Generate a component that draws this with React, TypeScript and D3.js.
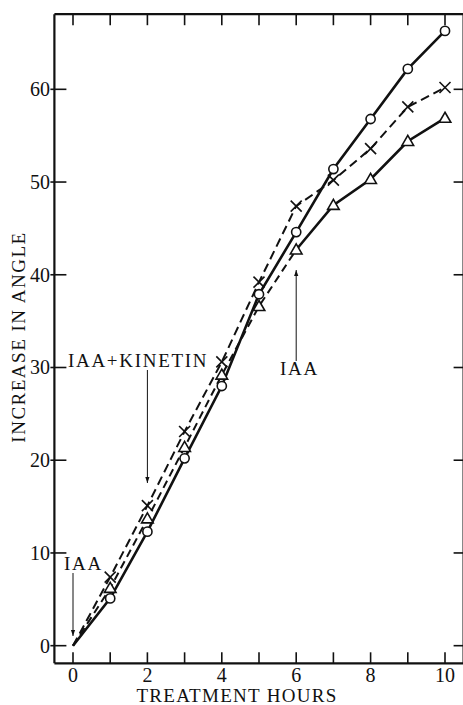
import React from "react";
import * as d3 from "d3";

const hours = [0, 1, 2, 3, 4, 5, 6, 7, 8, 9, 10];
const circleValues = [0, 5.1, 12.3, 20.2, 28.0, 37.9, 44.6, 51.4, 56.8, 62.2, 66.3];
const crossValues = [0, 7.4, 15.1, 23.1, 30.6, 39.2, 47.4, 50.2, 53.6, 58.1, 60.2];
const triangleValues = [0, 6.2, 13.7, 21.4, 29.2, 36.6, 42.7, 47.5, 50.3, 54.4, 56.9];
const xTickLabels = [0, 2, 4, 6, 8, 10];
const yTickLabels = [0, 10, 20, 30, 40, 50, 60];
const iaaStartHour = 0;
const kinetinHour = 2;
const iaaLateHour = 6;

const W = 463;
const H = 705;
const INK = "#111";
const serif = (size: number, spacing = 0): React.CSSProperties => ({
  fontFamily: "Liberation Serif",
  fontSize: size,
  letterSpacing: spacing,
});

export default function App() {
  const x = d3.scaleLinear().domain([-0.5, 10.5]).range([54.4, 463.6]);
  const y = d3.scaleLinear().domain([-1.9, 68.1]).range([663.3, 14.2]);
  const left = x(-0.5), right = x(10.5), top = y(68.1), bottom = y(-1.9);

  const line = d3
    .line<number>()
    .x((_, i) => x(hours[i]))
    .y((v) => y(v));

  const pts = (vals: number[]) => vals.map((v, i) => [x(hours[i]), y(v)] as [number, number]);
  const lineXY = d3.line<[number, number]>();

  const triDashed = pts(triangleValues).slice(0, 7);
  const triSolid = pts(triangleValues).slice(6);

  const tri = (cx: number, cy: number) =>
    `M${cx},${cy - 5.8} L${cx + 5.8},${cy + 4.2} L${cx - 5.8},${cy + 4.2} Z`;

  return (
    <svg
      width={W}
      height={H}
      style={{ position: "absolute", left: 0, top: 0, background: "#fff" }}
    >
      <defs>
        <marker id="ah" viewBox="0 0 10 10" refX="10" refY="5" markerWidth="6" markerHeight="10" orient="auto-start-reverse" markerUnits="userSpaceOnUse">
          <path d="M0,1.5 L10,5 L0,8.5 Z" fill={INK} />
        </marker>
      </defs>
      <rect x={0} y={0} width={W} height={H} fill="#fff" />

      {/* frame */}
      <line x1={left} x2={right + 2} y1={top} y2={top} stroke={INK} strokeWidth={2.2} />
      <line x1={left} x2={right + 2} y1={bottom} y2={bottom} stroke={INK} strokeWidth={2.2} />
      <line x1={left} x2={left} y1={top} y2={bottom} stroke={INK} strokeWidth={2.2} />
      <line x1={right} x2={right} y1={top} y2={bottom} stroke={INK} strokeWidth={2.2} />

      {/* x ticks top and bottom */}
      {hours.map((h) => (
        <g key={"xt" + h}>
          <line x1={x(h)} x2={x(h)} y1={top} y2={top + 11} stroke={INK} strokeWidth={1.6} />
          <line x1={x(h)} x2={x(h)} y1={bottom} y2={bottom - 11} stroke={INK} strokeWidth={1.6} />
        </g>
      ))}
      {xTickLabels.map((h) => (
        <text key={"xl" + h} x={x(h)} y={682} textAnchor="middle" style={serif(20)} fill={INK}>
          {h}
        </text>
      ))}

      {/* y ticks left and right */}
      {yTickLabels.map((v) => (
        <g key={"yt" + v}>
          <line x1={left - 4} x2={left + 12} y1={y(v)} y2={y(v)} stroke={INK} strokeWidth={1.6} />
          <line x1={right - 10} x2={right} y1={y(v)} y2={y(v)} stroke={INK} strokeWidth={1.6} />
          <text x={50} y={y(v)} dy="0.35em" textAnchor="end" style={serif(20)} fill={INK}>
            {v}
          </text>
        </g>
      ))}

      {/* axis titles */}
      <text x={237} y={702} textAnchor="middle" style={serif(19, 1.3)} fill={INK}>
        TREATMENT HOURS
      </text>
      <text
        transform={`translate(25,337) rotate(-90)`}
        textAnchor="middle"
        style={serif(19, 1.5)}
        fill={INK}
      >
        INCREASE IN ANGLE
      </text>

      {/* series lines */}
      <path d={line(circleValues) || ""} fill="none" stroke={INK} strokeWidth={2.6} />
      <path d={line(crossValues) || ""} fill="none" stroke={INK} strokeWidth={2} strokeDasharray="9 5" />
      <path d={lineXY(triDashed) || ""} fill="none" stroke={INK} strokeWidth={2} strokeDasharray="8 5" />
      <path d={lineXY(triSolid) || ""} fill="none" stroke={INK} strokeWidth={2.6} />

      {/* markers */}
      {circleValues.map((v, i) =>
        i === 0 ? null : (
          <circle key={"c" + i} cx={x(hours[i])} cy={y(v)} r={4.6} fill="#fff" stroke={INK} strokeWidth={1.6} />
        )
      )}
      {triangleValues.map((v, i) =>
        i === 0 ? null : (
          <path key={"t" + i} d={tri(x(hours[i]), y(v))} fill="#fff" stroke={INK} strokeWidth={1.6} />
        )
      )}
      {crossValues.map((v, i) =>
        i === 0 ? null : (
          <g key={"x" + i} stroke={INK} strokeWidth={1.6}>
            <line x1={x(hours[i]) - 5.5} x2={x(hours[i]) + 5.5} y1={y(v) - 5.5} y2={y(v) + 5.5} />
            <line x1={x(hours[i]) - 5.5} x2={x(hours[i]) + 5.5} y1={y(v) + 5.5} y2={y(v) - 5.5} />
          </g>
        )
      )}

      {/* annotations */}
      <text x={64} y={570} style={serif(19, 1.7)} fill={INK}>
        IAA
      </text>
      <line x1={x(iaaStartHour)} x2={x(iaaStartHour)} y1={573} y2={636} stroke={INK} strokeWidth={1} markerEnd="url(#ah)" />

      <text x={68} y={367} style={serif(19, 1.7)} fill={INK}>
        IAA+KINETIN
      </text>
      <line x1={x(kinetinHour)} x2={x(kinetinHour)} y1={370} y2={483} stroke={INK} strokeWidth={1} markerEnd="url(#ah)" />

      <text x={280} y={375} style={serif(19, 1.7)} fill={INK}>
        IAA
      </text>
      <line x1={x(iaaLateHour)} x2={x(iaaLateHour)} y1={361} y2={270} stroke={INK} strokeWidth={1} markerEnd="url(#ah)" />
    </svg>
  );
}
